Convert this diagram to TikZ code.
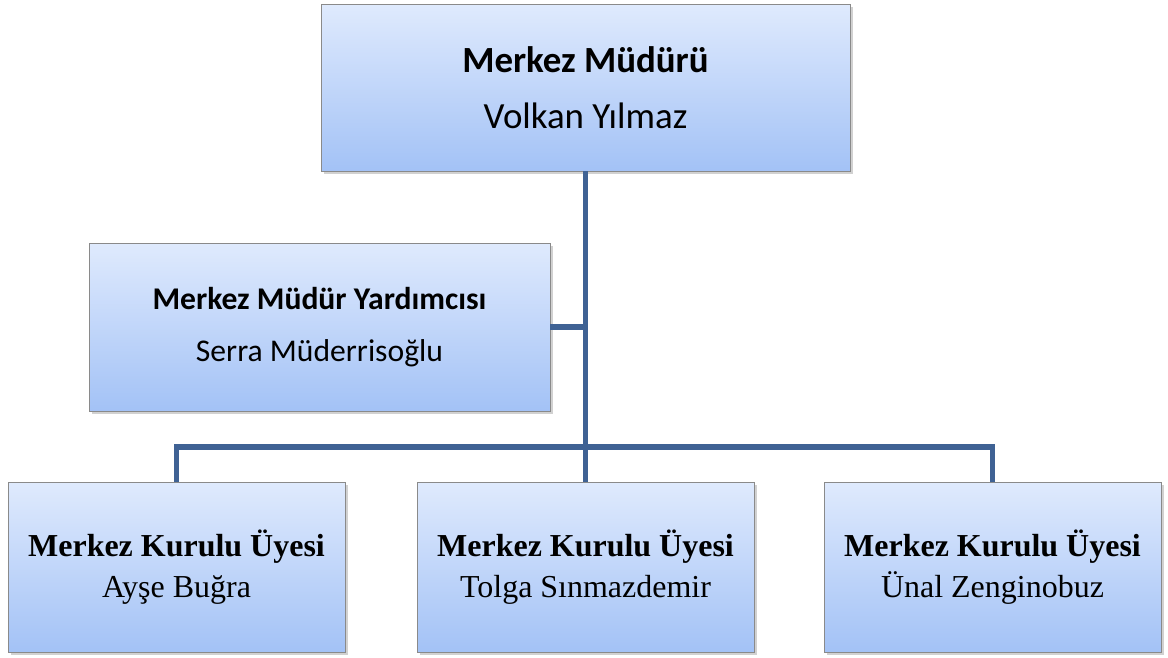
\documentclass[tikz,border=0pt]{standalone}
\usepackage{fontspec}
\setmainfont{Liberation Serif}
\newfontfamily\calibri{Carlito}
\usetikzlibrary{positioning,shadows}

\definecolor{boxtop}{HTML}{DFEAFD}
\definecolor{boxbot}{HTML}{A3C2F6}
\definecolor{boxline}{HTML}{8A8A8A}
\definecolor{connblue}{HTML}{3F6294}

\begin{document}
\begin{tikzpicture}[
  x=0.02cm, y=-0.02cm,
  box/.style={draw=boxline, line width=0.5pt, top color=boxtop, bottom color=boxbot,
    align=center, inner sep=0pt,
    drop shadow={shadow xshift=1.5pt, shadow yshift=-1.5pt, opacity=0.3, fill=black!60}},
  member/.style={box, minimum width=337*0.02cm, minimum height=170*0.02cm,
    font=\fontsize{18.2}{23.5}\selectfont},
  conn/.style={draw=connblue, line width=3.1pt},
  every node/.style={text=black}
]
\useasboundingbox (0,0) rectangle (1168,657);

% boxes
\node[box, minimum width=529*0.02cm, minimum height=167*0.02cm,
  font=\calibri\fontsize{21}{32}\selectfont] (mgr) at (585.5,87.5)
  {\textbf{Merkez Müdürü}\\Volkan Yılmaz};
\node[box, minimum width=461*0.02cm, minimum height=168*0.02cm,
  font=\calibri\fontsize{18}{29.5}\selectfont] (dep) at (319.5,327)
  {\textbf{Merkez Müdür Yardımcısı}\\Serra Müderrisoğlu};
\node[member] (m1) at (176.5,567) {\textbf{Merkez Kurulu Üyesi}\\Ayşe Buğra};
\node[member] (m2) at (585.5,567) {\textbf{Merkez Kurulu Üyesi}\\Tolga Sınmazdemir};
\node[member] (m3) at (992.5,567) {\textbf{Merkez Kurulu Üyesi}\\Ünal Zenginobuz};

% connectors
\coordinate (bus) at (585.5,447);
\draw[conn] (mgr.south) -- (bus);
\draw[conn] (dep.east) -- (dep.east -| mgr.south);
\draw[conn] (m1.north) |- (bus) -| (m3.north);
\draw[conn] (bus) -- (m2.north);
\end{tikzpicture}
\end{document}
